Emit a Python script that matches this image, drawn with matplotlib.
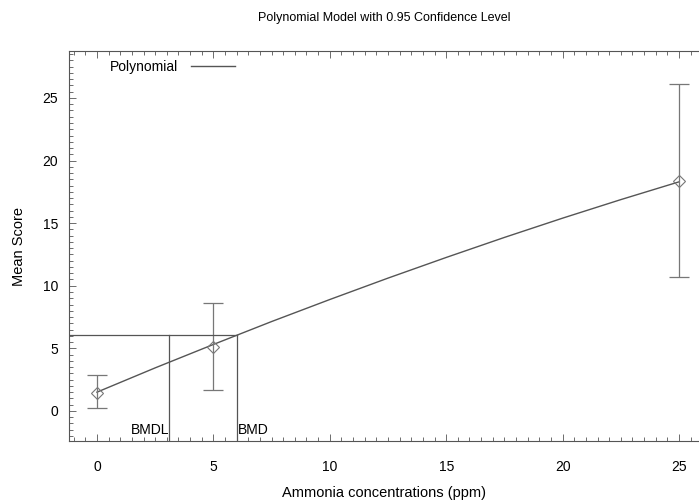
"""
Polynomial benchmark dose model plot.
"""
import matplotlib
matplotlib.use("Agg")
import matplotlib.pyplot as plt
from matplotlib.ticker import MultipleLocator

plt.rcParams['font.family'] = ['Liberation Sans', 'DejaVu Sans']

# observed means with 95% confidence limits
dose = [0, 5, 25]
mean_score = [1.45, 5.1, 18.4]
ci_low = [0.25, 1.7, 10.7]
ci_high = [2.85, 8.6, 26.1]

# fitted polynomial curve
curve_x = [0, 2.5, 5, 7.5, 10, 12.5, 15, 17.5, 20, 22.5, 25]
curve_y = [1.5, 3.44, 5.31, 7.14, 8.9, 10.61, 12.26, 13.86, 15.4, 16.88, 18.3]

# benchmark dose values
bmr_level = 6.05
bmd = 6.0
bmdl = 3.1

fig = plt.figure(figsize=(6.99, 5.01), dpi=100)
ax = fig.add_axes([69 / 699, 60 / 501, 631 / 699, 390 / 501])

gray = '#555555'
ax.plot(curve_x, curve_y, color=gray, lw=1, label='Polynomial')

err_lo = [m - l for m, l in zip(mean_score, ci_low)]
err_hi = [h - m for m, h in zip(mean_score, ci_high)]
ax.errorbar(dose, mean_score, yerr=[err_lo, err_hi], fmt='none',
            ecolor='#777777', elinewidth=0.9, capsize=7, capthick=0.9)
ax.plot(dose, mean_score, 'D', ms=6, mfc='none', mec='#777777', mew=0.8)

# BMD / BMDL guide lines
ax.plot([-1.2, bmd], [bmr_level, bmr_level], color=gray, lw=0.9)
ax.plot([bmdl, bmdl], [-2.4, bmr_level], color=gray, lw=0.9)
ax.plot([bmd, bmd], [-2.4, bmr_level], color=gray, lw=0.9)
ax.text(bmdl, -1.5, 'BMDL', ha='right', va='center', fontsize=10)
ax.text(bmd + 0.05, -1.5, 'BMD', ha='left', va='center', fontsize=10)

ax.set_xlim(-1.2, 25.9)
ax.set_ylim(-2.4, 28.75)

ax.xaxis.set_major_locator(MultipleLocator(5))
ax.xaxis.set_minor_locator(MultipleLocator(0.5))
ax.yaxis.set_major_locator(MultipleLocator(5))
ax.yaxis.set_minor_locator(MultipleLocator(0.5))
ax.tick_params(which='both', direction='in', top=True, right=False,
               color=gray, width=0.6)
ax.tick_params(which='major', length=5, labelsize=10, pad=13.5)
ax.tick_params(axis='y', which='major', pad=8)
ax.tick_params(which='minor', length=3)

for side in ['left', 'top', 'bottom']:
    ax.spines[side].set_color(gray)
    ax.spines[side].set_linewidth(0.8)
ax.spines['right'].set_visible(False)

ax.set_xlabel('Ammonia concentrations (ppm)', fontsize=10.5, labelpad=8.5)
ax.set_ylabel('Mean Score', fontsize=10.5, labelpad=12)
fig.suptitle('Polynomial Model with 0.95 Confidence Level', fontsize=9,
             x=(69 + 631 / 2) / 699, y=1 - 18 / 501, va='center')

leg = ax.legend(loc='upper left', frameon=False, fontsize=10,
                markerfirst=False, handlelength=3.2, handletextpad=0.9,
                bbox_to_anchor=(0.045, 1.01))

fig.savefig('out.png', dpi=100)
